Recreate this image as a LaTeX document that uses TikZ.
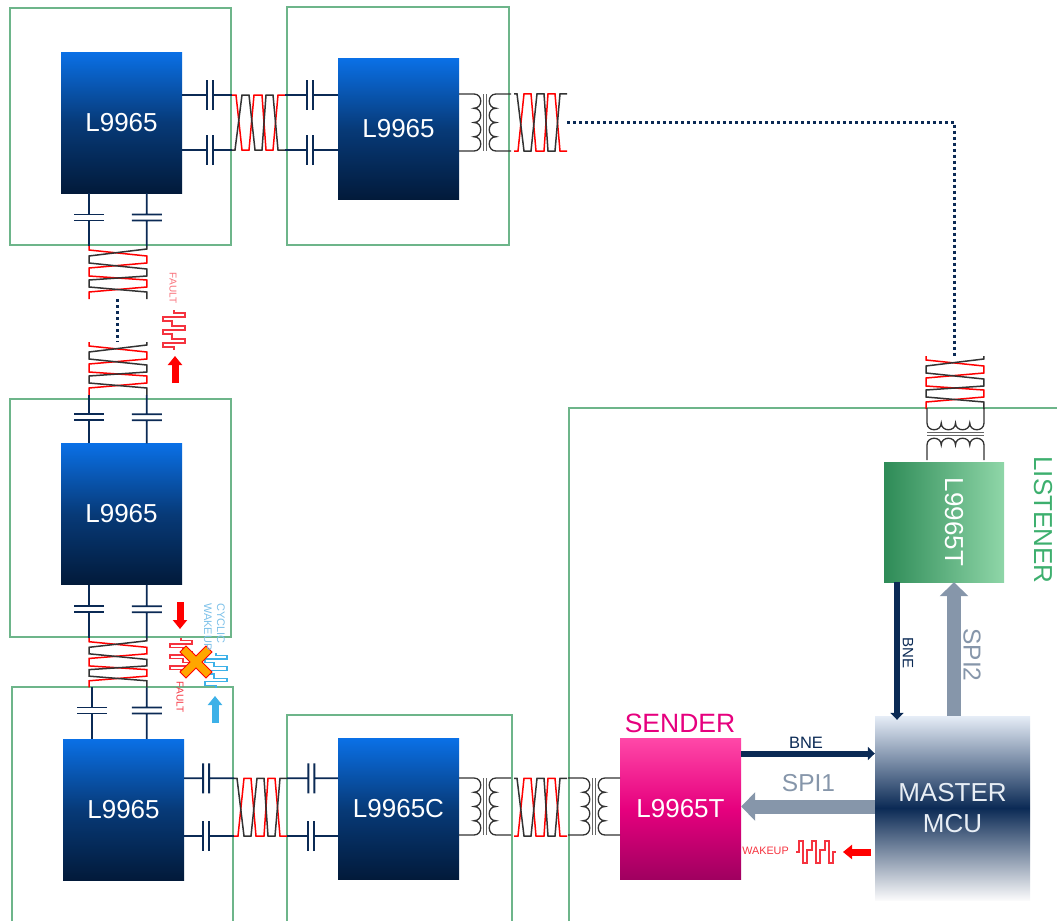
\documentclass[tikz,border=0pt]{standalone}
\usepackage{fontspec}
\setmainfont{Liberation Sans}
\usepackage{xcolor}
\usetikzlibrary{calc,arrows.meta}

\definecolor{navy}{HTML}{0B2A55}
\definecolor{boxgreen}{HTML}{6DB58A}
\definecolor{labelgreen}{HTML}{3DAF6E}
\definecolor{busgrey}{HTML}{8696AA}
\definecolor{senderpink}{HTML}{E6007E}
\definecolor{senderlight}{HTML}{FF48A8}
\definecolor{senderdark}{HTML}{A00060}
\definecolor{faultred}{HTML}{F5333F}
\definecolor{sigblue}{HTML}{3DB1E8}
\definecolor{paleblue}{HTML}{7CC0E8}
\definecolor{chipblue}{HTML}{0A70E6}
\definecolor{chipmid}{HTML}{073A78}
\definecolor{chipdark}{HTML}{021A3A}
\definecolor{listdark}{HTML}{2E8B57}
\definecolor{listlight}{HTML}{8FD6A8}
\definecolor{mcutop}{HTML}{E6EDF7}
\definecolor{mcubottom}{HTML}{FAFAFB}
\definecolor{mcutext}{HTML}{E8EEF5}

\tikzset{
  txt/.style={font=\fontsize{#1}{#1}\selectfont, inner sep=0pt},
  chip/.style={minimum width=121pt, minimum height=141pt, inner sep=0pt, text=white,
    font=\fontsize{26}{31}\selectfont, top color=chipblue, bottom color=chipdark, middle color=chipmid},
  greenbox/.style={draw=boxgreen, line width=1.3pt},
  busarrow/.style={draw=navy, line width=6pt, -{Triangle[length=7pt,width=13pt]}},
  fatarrow/.style={draw=busgrey, line width=14pt, -{Triangle[length=14pt,width=28pt]}},
  sigarrow/.style={line width=7pt, -{Triangle[length=9pt,width=14pt]}},
  dotline/.style={draw=navy, line width=3pt, dash pattern=on 3pt off 3pt},
  capwire/.style={draw=navy, line width=1.8pt, to path={
    ($(\tikztostart)!#1!(\tikztotarget)$) coordinate (capm)
    ($(capm)!3pt!(\tikztostart)$) coordinate (capa)
    ($(capm)!3pt!(\tikztotarget)$) coordinate (capb)
    (\tikztostart) -- (capa) (\tikztotarget) -- (capb)
    ($(capa)!15pt!90:(capm)$) -- ($(capa)!15pt!-90:(capm)$)
    ($(capb)!15pt!90:(capm)$) -- ($(capb)!15pt!-90:(capm)$)
    (\tikztotarget)}},
  capwire/.default=.5,
  pics/twist/.style={code={
    \draw[red, line width=1.5pt] (0,0) -- (4,0) -- (10,55) -- (17,55) -- (22,0) -- (30,0)
      -- (34,55) -- (41,55) -- (46,0) -- (53,0);
    \draw[black!80, line width=1.5pt] (0,55) -- (3,55) -- (10,0) -- (17,0) -- (23,55) -- (30,55)
      -- (34,0) -- (41,0) -- (46,55) -- (53,55);
    \coordinate (-a) at (0,0);
    \coordinate (-b) at (0,55);
    \coordinate (-c) at (53,0);
    \coordinate (-d) at (53,55);
  }},
  pics/xfmr/.style={code={
    \draw[black!80, line width=1.3pt] (0,0) -- (15,0)
      .. controls (24,0) and (24,14.25) .. (15,14.25)
      .. controls (24,14.25) and (24,28.5) .. (15,28.5)
      .. controls (24,28.5) and (24,42.75) .. (15,42.75)
      .. controls (24,42.75) and (24,57) .. (15,57) -- (0,57);
    \draw[black!80, line width=1.3pt] (52,0) -- (37,0)
      .. controls (28,0) and (28,14.25) .. (37,14.25)
      .. controls (28,14.25) and (28,28.5) .. (37,28.5)
      .. controls (28,28.5) and (28,42.75) .. (37,42.75)
      .. controls (28,42.75) and (28,57) .. (37,57) -- (52,57);
    \draw[black!60, line width=1pt] (24.5,0) -- (24.5,57) (27.5,0) -- (27.5,57);
  }},
  pics/pulse/.style={code={
    \draw[#1, line width=1.2pt] (0,11) -- (3,11) -- (3,0) -- (7,0) -- (7,22) -- (11,22) -- (11,9) -- (16,9)
      -- (16,0) -- (20,0) -- (20,22) -- (24,22) -- (24,9) -- (29,9) -- (29,0) -- (33,0)
      -- (33,22) -- (37,22) -- (37,11) -- (40,11);
  }},
}

\begin{document}
\begin{tikzpicture}[x=1pt,y=-1pt]
    \useasboundingbox (0,0) rectangle (1057,921);

    % Green boards
    \draw[greenbox] (10,8) rectangle (231,245);
    \draw[greenbox] (287,7) rectangle (509,245);
    \draw[greenbox] (10,399) rectangle (231,637);
    \draw[greenbox] (12,921) -- (12,687) -- (233,687) -- (233,921);
    \draw[greenbox] (287,921) -- (287,715) -- (512,715) -- (512,921);
    \draw[greenbox] (569,921) -- (569,408) -- (1057,408);

    % Chips
    \node[chip] (chipTL) at (121.5,122.5) {L9965};
    \node[chip] (chipTR) at (398.5,129) {L9965};
    \node[chip] (chipML) at (121.5,514) {L9965};
    \node[chip] (chipBL) at (123.5,809.5) {L9965};
    \node[chip] (chipC) at (398.5,809) {L9965C};
    \node[minimum width=121pt, minimum height=141pt, inner sep=0pt, text=white,
      font=\fontsize{26}{31}\selectfont, top color=senderlight, bottom color=senderdark, middle color=senderpink]
      (sender) at (680.5,808.5) {L9965T};
    \node[minimum width=120pt, minimum height=120pt, inner sep=0pt, left color=listdark, right color=listlight]
      (listener) at (944,522) {};
    \node[text=white, txt=26, rotate=-90] (listenerlabel) at ([xshift=10pt]listener.center) {L9965T};
    \node[minimum width=155pt, minimum height=184pt, inner sep=0pt, text=mcutext, align=center,
      font=\fontsize{26}{31}\selectfont, top color=mcutop, bottom color=mcubottom, middle color=navy]
      (master) at (952.5,808) {MASTER\\MCU};

    % Twisted pairs
    \pic (twA) at (232,95) {twist};
    \pic[yscale=-1.04] (twB) at (514,151) {twist};
    \pic[rotate=-90,yscale=-1.05] (twC) at (89,246) {twist};
    \pic[rotate=-90,yscale=-1.05] (twD) at (89,342) {twist};
    \pic[rotate=-90,yscale=-1.05,xscale=.93] (twE) at (89,638) {twist};
    \pic[yscale=-1.05] (twF) at (234,836) {twist};
    \pic[yscale=-1.05] (twG) at (514,836) {twist};
    \pic[rotate=-90,yscale=-1.05] (twH) at (926,356) {twist};

    % Capacitors
    \draw[capwire=.56] (chipTL.east |- twA-a) to (twA-a);
    \draw[capwire=.56] (chipTL.east |- twA-b) to (twA-b);
    \draw[capwire=.47] (twA-c) to (chipTR.west |- twA-c);
    \draw[capwire=.47] (twA-d) to (chipTR.west |- twA-d);
    \draw[capwire=.46] (twC-a |- chipTL.south) to (twC-a);
    \draw[capwire=.46] (twC-b |- chipTL.south) to (twC-b);
    \draw[capwire=.46] (twD-c) to (twD-c |- chipML.north);
    \draw[capwire=.46] (twD-d) to (twD-d |- chipML.north);
    \draw[capwire=.46] (twE-a |- chipML.south) to (twE-a);
    \draw[capwire=.46] (twE-b |- chipML.south) to (twE-b);
    \draw[capwire=.45] ([xshift=3pt]twE-c) to ([xshift=3pt]twE-c |- chipBL.north);
    \draw[capwire=.45] (twE-d) to (twE-d |- chipBL.north);
    \draw[capwire=.44] (chipBL.east |- twF-a) to (twF-a);
    \draw[capwire=.44] (chipBL.east |- twF-b) to (twF-b);
    \draw[capwire=.48] (twF-c) to (chipC.west |- twF-c);
    \draw[capwire=.48] (twF-d) to (chipC.west |- twF-d);

    % Transformers
    \pic at (459,94) {xfmr};
    \pic at (459,778) {xfmr};
    \pic at (568,778) {xfmr};
    \pic[rotate=-90,yscale=-1] at (927,408) {xfmr};

    % Dotted runs
    \draw[dotline] ($(twB-c)!.5!(twB-d)$) -| ($(twH-a)!.5!(twH-b)$);
    \draw[dotline] ($(twC-c)!.5!(twC-d)$) -- ($(twD-a)!.5!(twD-b)$);

    % Buses
    \draw[busarrow] ([yshift=55pt]sender.east) -- ([yshift=55pt]sender.east -| master.west);
    \draw[fatarrow] ([yshift=2pt]sender.east -| master.west) -- ([yshift=2pt]sender.east);
    \draw[busarrow] ([xshift=-47pt]listener.south) -- ([xshift=-55.5pt,yshift=-4pt]master.north);
    \draw[fatarrow] ([xshift=1.5pt]master.north) -- ([xshift=10pt]listener.south);
    \node[txt=16.5, text=navy] (bnetop) at (806,743) {BNE};
    \node[txt=24.5, text=busgrey] (spione) at (808.5,783) {SPI1};
    \node[txt=15, text=navy, rotate=-90] (bneside) at (908,653) {BNE};
    \node[txt=24.5, text=busgrey, rotate=-90] (spitwo) at (972,655) {SPI2};

    % Signal arrows
    \draw[sigarrow, red] (175,383) -- (175,356);
    \draw[sigarrow, red] (180,602) -- (180,629);
    \draw[sigarrow, sigblue] (215,723) -- (215,696);
    \draw[sigarrow, red] (871,852) -- (843,852);

    % Pulses
    \pic[rotate=90] at (163,350) {pulse=faultred};
    \pic[rotate=-90,xscale=.85] at (192,638) {pulse=faultred};
    \pic[rotate=90,xscale=.88] at (205,688) {pulse=sigblue};
    \pic at (796,841) {pulse=faultred};
    \filldraw[fill=orange!70!yellow, draw=red, line width=1pt] (196,656) -- (206,646) -- (212,652) -- (202,662)
      -- (212,672) -- (206,678) -- (196,668) -- (186,678) -- (180,672) -- (190,662) -- (180,652) -- (186,646) -- cycle;

    % Labels
    \node[txt=26.5, text=senderpink] (senderlabel) at (680,723) {SENDER};
    \node[txt=26, text=labelgreen, rotate=-90] (listenerside) at (1043,520) {LISTENER};
    \node[txt=10.8, text=faultred] (wakelabel) at (765.5,851) {WAKEUP};
    \node[txt=10, text=faultred!70, rotate=-90] (faulttop) at (173,288) {FAULT};
    \node[txt=10, text=faultred, rotate=-90] (faultlow) at (180,697) {FAULT};
    \node[font=\fontsize{11}{13}\selectfont, inner sep=0pt, text=paleblue, rotate=-90, align=left, anchor=west]
      (cyclic) at (214.5,603) {CYCLIC\\WAKEUP};
\end{tikzpicture}
\end{document}
